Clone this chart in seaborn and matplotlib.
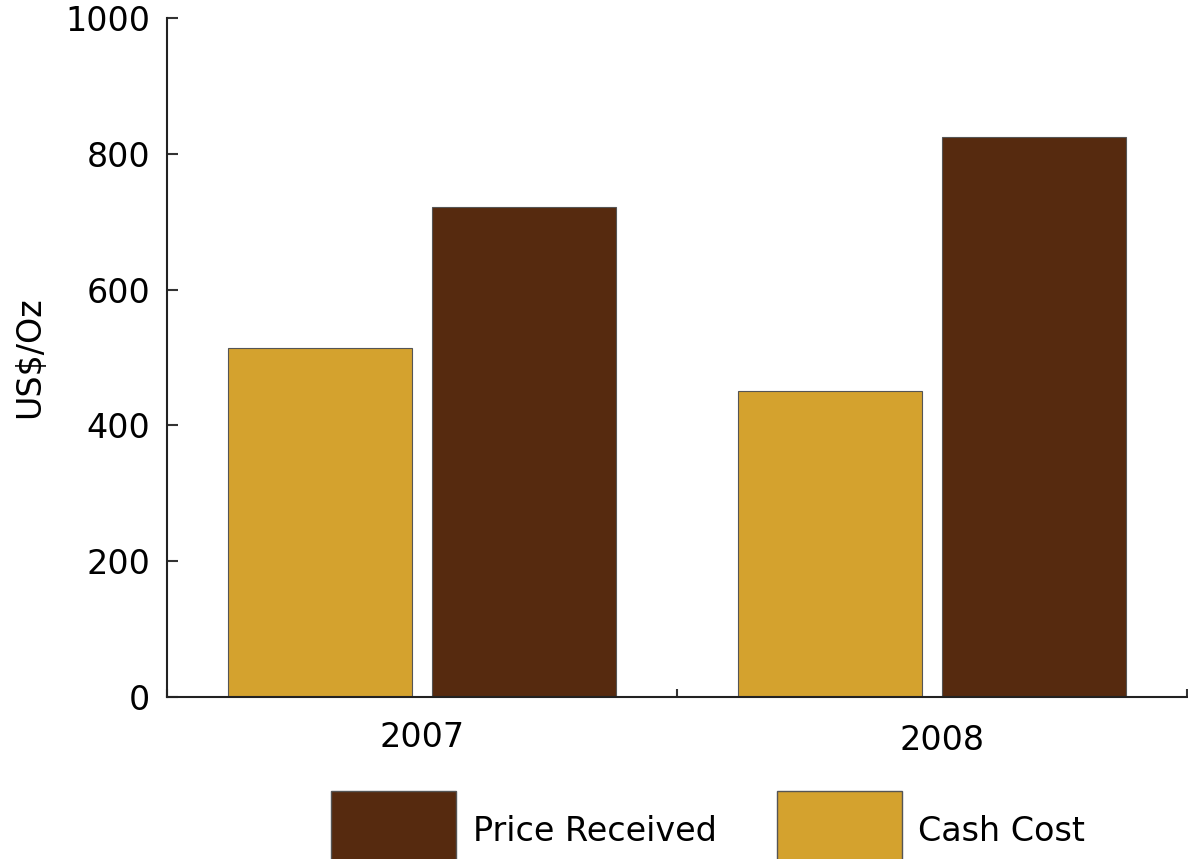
import pandas as pd
import numpy as np
import matplotlib.pyplot as plt
import matplotlib.transforms as mtransforms
import seaborn as sns
from matplotlib.patches import Patch

# Data
years = ['2007', '2008']
cash_cost = [514, 451]
price_received = [722, 825]
series_names = ['Cash Cost', 'Price Received']
colors = {'Cash Cost': '#D4A22E', 'Price Received': '#562A0F'}

data = pd.DataFrame({
    'year': years * 2,
    'series': [series_names[0]] * len(years) + [series_names[1]] * len(years),
    'value': cash_cost + price_received,
})

sns.set_style('white')
plt.rcParams['font.family'] = ['DejaVu Sans']
plt.rcParams['text.color'] = 'black'
plt.rcParams['axes.labelcolor'] = 'black'
plt.rcParams['xtick.color'] = 'black'
plt.rcParams['ytick.color'] = 'black'

fig = plt.figure(figsize=(11.88, 8.59), dpi=100)
ax = fig.add_axes([167 / 1188, 1 - 697 / 859, 1 - 167 / 1188 - 0.0008, (697 - 18) / 859])

sns.barplot(data=data, x='year', y='value', hue='series', hue_order=series_names,
            palette=colors, saturation=1, width=0.8, gap=0.1,
            edgecolor='#555555', linewidth=0.8, ax=ax, legend=False)

ax.set_xlim(-0.5, 1.5)
ax.set_ylim(0, 1000)
ax.set_yticks(np.arange(0, 1001, 200))
ax.set_xlabel('')
ax.set_ylabel('US$/Oz', fontsize=24, labelpad=14)

ax.spines['top'].set_visible(False)
ax.spines['right'].set_visible(False)
for s in ['left', 'bottom']:
    ax.spines[s].set_color('#222222')
    ax.spines[s].set_linewidth(1.5)

ax.tick_params(axis='y', left=True, direction='in', length=8, width=1.5, color='#333333',
               labelsize=24, pad=12)
ax.tick_params(axis='x', which='major', bottom=True, length=0, labelsize=24, pad=17)
ax.set_xticks([-0.5, 0.5, 1.5], minor=True)
ax.tick_params(axis='x', which='minor', bottom=True, direction='in', length=6, width=1.5,
               color='#333333')

# the 2008 label sits a little right of and below its group in the original
lbl = ax.get_xticklabels()[1]
lbl.set_transform(lbl.get_transform() + mtransforms.ScaledTranslation(0.10, -0.03, fig.dpi_scale_trans))

handles = [Patch(facecolor=colors['Price Received'], edgecolor='#555555', label='Price Received'),
           Patch(facecolor=colors['Cash Cost'], edgecolor='#555555', label='Cash Cost')]
fig.legend(handles=handles, loc='upper left', bbox_to_anchor=(331 / 1188, 1 - 791 / 859),
           ncol=2, frameon=False, fontsize=24, handlelength=3.75, handleheight=3.4,
           handletextpad=0.5, columnspacing=1.8, borderpad=0, borderaxespad=0)

fig.savefig('out.png', dpi=100)
